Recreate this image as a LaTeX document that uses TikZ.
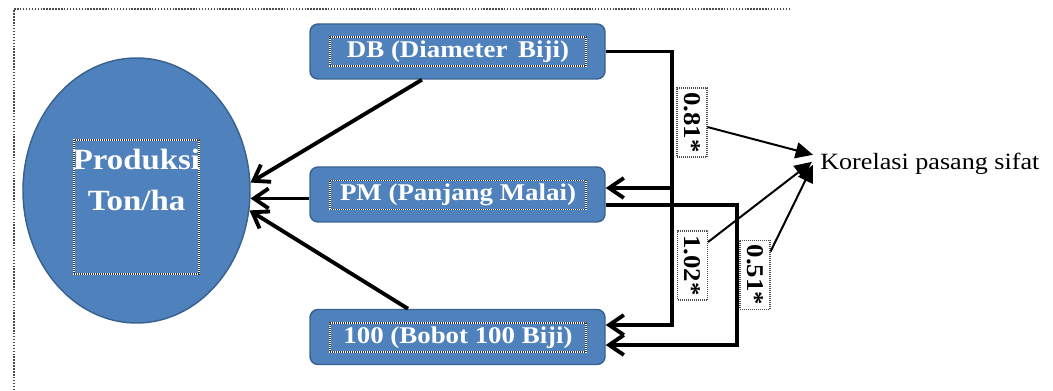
\documentclass[tikz,border=0pt]{standalone}
\usepackage{fontspec}
\setmainfont{Liberation Serif}[FakeStretch=1.12]
\usetikzlibrary{arrows.meta,shapes.geometric,calc}
\definecolor{boxblue}{HTML}{4F81BD}
\definecolor{boxedge}{HTML}{3A6290}
\begin{document}
\begin{tikzpicture}[x=0.75pt,y=-0.75pt,
  blk/.style={rectangle, rounded corners=6pt, fill=boxblue, draw=boxedge, line width=1.1pt,
    minimum width=221.25pt, minimum height=41.25pt, inner sep=0pt},
  fine/.style={draw=black!80, dash pattern=on 0.75pt off 0.75pt, line width=0.9pt,
    preaction={draw=white, solid, line width=0.9pt}},
  txtbox/.style={fine, inner sep=0pt, minimum width=192pt, minimum height=21.75pt,
    text=white, font=\fontsize{18}{20}\selectfont\bfseries},
  conn/.style={line width=2.9pt, black},
  openhead/.style={-{Straight Barb[length=11pt,width=15pt]}},
  lbl/.style={draw=black!70, dash pattern=on 0.75pt off 0.75pt, line width=0.8pt, fill=white,
    rotate=-90, minimum width=51.75pt, minimum height=22.5pt, inner sep=0pt,
    font=\fontsize{18}{20}\selectfont\bfseries},
  thinarrow/.style={line width=1.5pt, -{Triangle[length=13pt,width=12pt]}},
  frame/.style={draw=black!70, dash pattern=on 1.1pt off 1.1pt, line width=1pt}
]
\useasboundingbox (0,0) rectangle (1053,391);

% outer dotted frame
\draw[frame] (790,9) -- (14,9) -- (14,391);

% ellipse
\node[ellipse, fill=boxblue, draw=boxedge, line width=1.1pt, minimum width=170.25pt,
  minimum height=198.75pt, inner sep=0pt] (ell) at (136.5,190.5) {};
\node[fine, minimum width=93.75pt, minimum height=100.5pt, inner sep=0pt] (pbox) at (136.5,207) {};
\node[text=white, font=\fontsize{22}{30.75}\selectfont\bfseries, align=center, inner sep=0pt]
  (ptxt) at (136.5,180) {Produksi\\Ton/ha};

% boxes
\node[blk] (db) at (457.5,51.5) {};
\node[blk] (pm) at (457.5,194.5) {};
\node[blk] (hb) at (457.5,337) {};
\node[txtbox] (dbt) at (458,51.5) {DB (Diameter\hspace{0.45em}Biji)};
\node[txtbox] (pmt) at (458,195) {PM (Panjang Malai)};
\node[txtbox] (hbt) at (458,337.5) {100 (Bobot 100 Biji)};

% arrows to ellipse
\draw[conn, openhead] ($(db.south west)!0.38!(db.south east)$) -- (ell.4);
\draw[conn, openhead] (pm.west |- ell.-4) -- (ell.-4);
\draw[conn, openhead] ($(hb.north west)!0.333!(hb.north east)$) -- (ell.-10);

% right connectors
\coordinate (j1) at (672,325);
\coordinate (j2) at (672,188);
\coordinate (k1) at (737,205);
\coordinate (k2) at (737,345);
\draw[conn, openhead] (db.east) -| (j1) -- (hb.east |- j1);
\draw[conn, openhead] (j2) -- (pm.east |- j2);
\draw[conn, openhead] (pm.east |- k1) -- (k1) -- (k2) -- (hb.east |- k2);

% labels
\node[lbl] (l81) at (692,122.5) {0.81*};
\node[lbl] (l102) at (692.5,265.5) {1.02*};
\node[lbl] (l51) at (755,275) {0.51*};

% korelasi
\node[anchor=base west, inner sep=0pt, font=\fontsize{17.5}{20}\selectfont] (kor) at (820,170) {Korelasi pasang sifat};
\draw[thinarrow] ($(l81.north)!0.13!(l81.north east)$) -- ([shift={(-7,-9.5)}]kor.west);
\draw[thinarrow] ($(l102.north)!0.67!(l102.north west)$) -- ([shift={(-8,-2.5)}]kor.west);
\draw[thinarrow] ($(l51.north)!0.67!(l51.north west)$) -- ([shift={(-7,0.5)}]kor.west);
\end{tikzpicture}
\end{document}
